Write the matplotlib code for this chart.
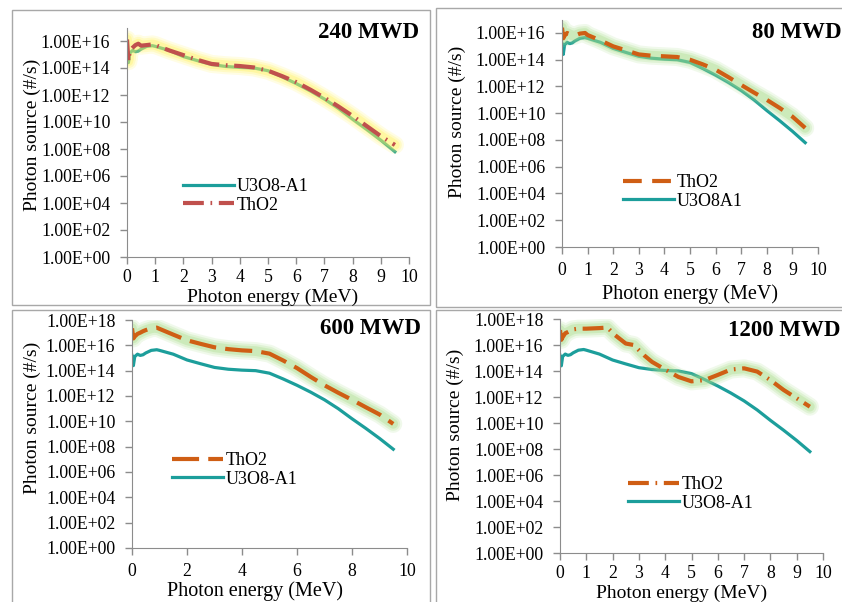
import matplotlib.pyplot as plt
from matplotlib.patches import Rectangle
from matplotlib.lines import Line2D
from matplotlib.ticker import FixedLocator, FuncFormatter

W, H = 842, 602
plt.rcParams['font.family'] = ['Liberation Serif', 'DejaVu Serif']

# photon energy grid (MeV)
energy = [0, 0.05, 0.1, 0.2, 0.3, 0.4, 0.5, 0.7, 0.9, 1.0, 1.5, 2.0, 2.5, 3.0,
          3.5, 4.0, 4.5, 5.0, 5.5, 6.0, 6.5, 7.0, 7.5, 8.0, 8.5, 9.0, 9.5]

# U3O8-A1 reference source (#/s)
u3o8_a1 = [1.6e15, 2.5e14, 1.3e15, 2.0e15, 1.6e15, 1.8e15, 2.5e15, 4.0e15, 4.5e15,
           4.0e15, 2.0e15, 7.0e14, 3.5e14, 1.8e14, 1.3e14, 1.1e14, 1.0e14, 6.3e13,
           2.2e13, 7.0e12, 2.0e12, 5.0e11, 1.0e11, 1.6e10, 2.8e9, 4.5e8, 6.3e7]

# ThO2 source at each burnup (#/s)
tho2_240 = [1.3e16, 3.2e14, 2.0e15, 3.2e15, 5.0e15, 6.3e15, 4.5e15, 5.0e15, 5.6e15,
            5.0e15, 2.0e15, 9.0e14, 4.0e14, 2.0e14, 1.6e14, 1.4e14, 1.1e14, 6.3e13,
            2.5e13, 9.0e12, 2.5e12, 6.3e11, 1.4e11, 2.8e10, 5.0e9, 9.0e8, 2.0e8]
tho2_80 = [2.5e16, 4.0e15, 6.3e15, 1.0e16, 8.0e15, 6.3e15, 6.3e15, 9.0e15, 1.0e16,
           7.0e15, 2.8e15, 1.0e15, 5.0e14, 2.5e14, 2.0e14, 1.8e14, 1.6e14, 1.0e14,
           4.5e13, 1.8e13, 5.0e12, 1.3e12, 3.5e11, 1.0e11, 2.5e10, 5.6e9, 8.0e8]
tho2_600 = [2.2e17, 3.5e16, 5.0e16, 8.0e16, 1.0e17, 1.3e17, 1.6e17, 2.2e17, 2.5e17,
            2.0e17, 7.0e16, 2.5e16, 1.3e16, 7.0e15, 5.0e15, 4.0e15, 3.5e15, 2.2e15,
            6.3e14, 1.6e14, 3.2e13, 7.0e12, 1.8e12, 5.0e11, 1.3e11, 3.5e10, 6.3e9]
energy_1200 = [0, 0.05, 0.1, 0.2, 0.3, 0.5, 0.7, 1.0, 1.5, 1.8, 2.1, 2.5, 2.8, 3.2,
               3.5, 4.0, 4.5, 5.0, 5.5, 6.0, 6.5, 7.0, 7.5, 8.0, 8.5, 9.0, 9.5]
tho2_1200 = [1.4e17, 2.5e16, 4.0e16, 8.0e16, 1.0e17, 1.6e17, 1.8e17, 1.8e17, 2.0e17,
             2.2e17, 5.6e16, 1.3e16, 1.0e16, 1.6e15, 5.0e14, 1.3e14, 3.5e13, 1.6e13,
             2.0e13, 5.0e13, 1.3e14, 1.6e14, 9.0e13, 2.0e13, 3.5e12, 8.0e11, 1.8e11]

TEAL = '#1c9e9b'
RED = '#c0504d'
ORANGE = '#cf5e14'
GRAY = '#8c8c8c'

fig = plt.figure(figsize=(W / 100, H / 100), dpi=100)


def px_axes(x0, x1, y_top, y_bot):
    return fig.add_axes([x0 / W, 1 - y_bot / H, (x1 - x0) / W, (y_bot - y_top) / H])


def style_axes(ax, ymax, xticks, xpad=6):
    ax.set_yscale('log')
    ax.set_xlim(0, 10)
    ax.set_ylim(1, ymax)
    ax.yaxis.set_major_locator(FixedLocator([10.0 ** k for k in range(0, 19, 2)]))
    ax.yaxis.set_minor_locator(FixedLocator([]))
    ax.yaxis.set_major_formatter(FuncFormatter(lambda v, p: f"{v:.2E}"))
    ax.set_xticks(xticks)
    for s in ['top', 'right']:
        ax.spines[s].set_visible(False)
    for s in ['left', 'bottom']:
        ax.spines[s].set_color(GRAY)
    ax.tick_params(direction='out', length=5, width=1, color=GRAY, labelsize=12.8)
    ax.tick_params(axis='y', pad=7)
    ax.tick_params(axis='x', pad=xpad)
    ax.patch.set_alpha(0)


def glow(ax, x, y, color):
    for lw, a in [(13, 0.16), (10, 0.22), (7, 0.32)]:
        ax.plot(x, y, color=color, lw=lw, alpha=a, solid_capstyle='round',
                solid_joinstyle='round')


def add_legend(ax, handles, labels, x, y):
    ax.legend(handles, labels, loc='upper left', bbox_to_anchor=(x / W, 1 - y / H),
              bbox_transform=fig.transFigure, frameon=False, fontsize=13,
              handlelength=2.8, handletextpad=0.15, labelspacing=0.1,
              borderpad=0, borderaxespad=0)


def panel_text(title, tx, ty, lx, ly, xx, xy, xsize=14.5):
    fig.text(tx / W, 1 - ty / H, title, fontsize=16.5, fontweight='bold',
             ha='left', va='center')
    fig.text(lx / W, 1 - ly / H, 'Photon source (#/s)', fontsize=14,
             rotation=90, ha='center', va='center')
    fig.text(xx / W, 1 - xy / H, 'Photon energy (MeV)', fontsize=xsize,
             ha='center', va='center')


# panel frames
for x0, y0, x1, y1 in [(12, 10, 430, 305), (436, 8, 850, 307),
                       (12, 310, 430, 610), (436, 310, 850, 610)]:
    fig.patches.append(Rectangle((x0 / W, 1 - y1 / H), (x1 - x0) / W, (y1 - y0) / H,
                                 transform=fig.transFigure, fill=False,
                                 ec='#a8a8a8', lw=1))

dash_dot = (0, (5, 1.6, 0.4, 1.6))
ints = list(range(0, 11))

# 240 MWD
ax1 = px_axes(127, 409, 27.5, 257)
style_axes(ax1, 1e17, ints, xpad=4)
ax1.plot(energy, u3o8_a1, color=TEAL, lw=2.3)
glow(ax1, energy, tho2_240, '#fff35a')
ax1.plot(energy, tho2_240, color=RED, lw=3, linestyle=dash_dot)
add_legend(ax1,
           [Line2D([], [], color=TEAL, lw=2.3),
            Line2D([], [], color=RED, lw=3, linestyle=dash_dot)],
           ['U3O8-A1', 'ThO2'], 183, 178)
panel_text('240 MWD', 318, 32, 32, 135, 273, 297, xsize=14)

# 80 MWD
ax2 = px_axes(562, 818, 19.6, 247)
style_axes(ax2, 1e17, ints)
ax2.plot(energy, u3o8_a1, color=TEAL, lw=2.3)
glow(ax2, energy, tho2_80, '#a5dc86')
ax2.plot(energy, tho2_80, color=ORANGE, lw=3, linestyle=(0, (4.5, 2.5)))
add_legend(ax2,
           [Line2D([], [], color=ORANGE, lw=3, linestyle=(0, (4.5, 2.5))),
            Line2D([], [], color=TEAL, lw=2.3)],
           ['ThO2', 'U3O8A1'], 623, 174)
panel_text('80 MWD', 752, 32, 457, 122, 690, 294)

# 600 MWD
ax3 = px_axes(132, 407, 320, 548)
style_axes(ax3, 1e18, list(range(0, 11, 2)))
ax3.plot(energy, u3o8_a1, color=TEAL, lw=2.3)
glow(ax3, energy, tho2_600, '#a5dc86')
ax3.plot(energy, tho2_600, color=ORANGE, lw=3, linestyle=(0, (6.5, 2.2)))
add_legend(ax3,
           [Line2D([], [], color=ORANGE, lw=3, linestyle=(0, (6.5, 2.2))),
            Line2D([], [], color=TEAL, lw=2.3)],
           ['ThO2', 'U3O8-A1'], 172, 452)
panel_text('600 MWD', 320, 328, 32, 418, 255, 591)

# 1200 MWD
ax4 = px_axes(560, 823, 319, 553)
style_axes(ax4, 1e18, ints, xpad=4)
ax4.plot(energy, u3o8_a1, color=TEAL, lw=2.3)
glow(ax4, energy_1200, tho2_1200, '#a5dc86')
ax4.plot(energy_1200, tho2_1200, color=ORANGE, lw=3, linestyle=dash_dot)
add_legend(ax4,
           [Line2D([], [], color=ORANGE, lw=3, linestyle=dash_dot),
            Line2D([], [], color=TEAL, lw=2.3)],
           ['ThO2', 'U3O8-A1'], 628, 476)
panel_text('1200 MWD', 728, 330, 455, 425, 682, 593, xsize=14)

fig.savefig('out.png', dpi=100)
